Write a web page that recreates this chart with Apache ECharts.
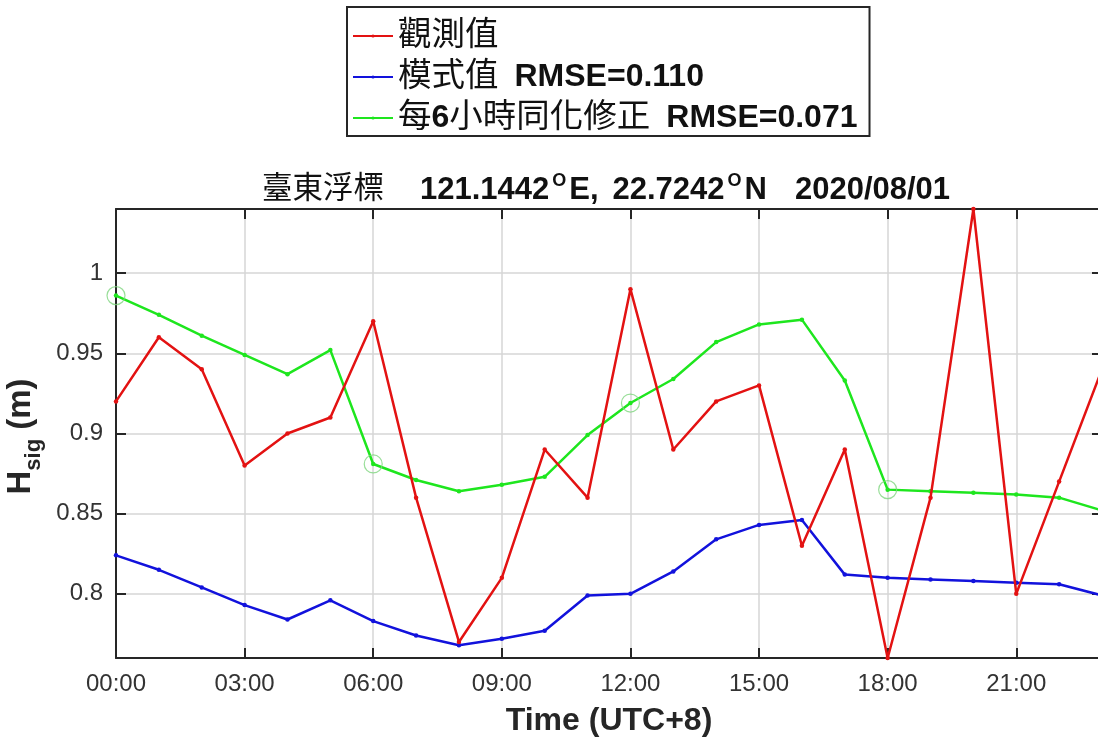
<!DOCTYPE html>
<html><head><meta charset="utf-8">
<script src="https://cdn.jsdelivr.net/npm/echarts@6/dist/echarts.min.js"></script>
<style>html,body{margin:0;padding:0;background:#fff}#c{width:1098px;height:740px}</style>
</head><body><div id="c"></div>
<script>
// ---- data ----
const hours = ['00:00','01:00','02:00','03:00','04:00','05:00','06:00','07:00','08:00','09:00','10:00','11:00',
               '12:00','13:00','14:00','15:00','16:00','17:00','18:00','19:00','20:00','21:00','22:00','23:00'];
const observed = [0.92,0.96,0.94,0.88,0.90,0.91,0.97,0.86,0.77,0.81,0.89,0.86,
                  0.99,0.89,0.92,0.93,0.83,0.89,0.76,0.86,1.04,0.80,0.87,0.94];
const model = [0.824,0.815,0.804,0.793,0.784,0.796,0.783,0.774,0.768,0.772,0.777,0.799,
               0.800,0.814,0.834,0.843,0.846,0.812,0.810,0.809,0.808,0.807,0.806,0.799];
const assimilated = [0.986,0.974,0.961,0.949,0.937,0.952,0.881,0.871,0.864,0.868,0.873,0.899,
                     0.919,0.934,0.957,0.968,0.971,0.933,0.865,0.864,0.863,0.862,0.860,0.852];
const assimHours = ['00:00','06:00','12:00','18:00'];
const seriesNames = ['觀測值','模式值 RMSE=0.110','每6小時同化修正 RMSE=0.071'];
const titleStation = '臺東浮標';
const titleLon = '121.1442', titleLat = '22.7242', titleDate = '2020/08/01';
const yMin = 0.76, yMax = 1.04;

const FONT = "'Liberation Sans', 'Noto Sans CJK TC', sans-serif";
const colors = ['#e31212', '#1212dc', '#1ee61e'];

const chart = echarts.init(document.getElementById('c'), null, {renderer: 'canvas'});

function legendText(s) {
  const k = s.indexOf(' ');
  const head = k < 0 ? s : s.slice(0, k);
  const tail = k < 0 ? '' : s.slice(k + 1);
  let out = head.replace(/([0-9]+)/g, '{b|$1}');
  if (tail) out += '{r|' + tail + '}';
  return out;
}

const lineSeries = [observed, model, assimilated].map((vals, i) => ({
  name: seriesNames[i],
  type: 'line',
  data: vals,
  symbol: 'circle',
  symbolSize: 4.5,
  showSymbol: true,
  lineStyle: {color: colors[i], width: 2.5},
  itemStyle: {color: colors[i]},
  emphasis: {disabled: true},
  animation: false,
  z: 3 - i + 2
}));

const circleSeries = {
  type: 'scatter',
  name: 'assim',
  data: assimHours.map(h => [h, assimilated[hours.indexOf(h)]]),
  symbol: 'circle',
  symbolSize: 18,
  itemStyle: {color: 'rgba(0,0,0,0)', borderColor: '#7fd67f', borderWidth: 1.2},
  emphasis: {disabled: true},
  animation: false,
  z: 10
};

const axisLineStyle = {color: '#262626', width: 2};
const bold31 = {fontFamily: FONT, fontSize: 31, fontWeight: 'bold', color: '#111', lineHeight: 36, verticalAlign: 'middle'};
const option = {
  backgroundColor: '#fff',
  animation: false,
  textStyle: {fontFamily: FONT},
  title: {
    text: '{n|' + titleStation + '}{b1|' + titleLon + '}{s|O}{b|E,}{b3|' + titleLat + '}{s|O}{b|N}{b2|' + titleDate + '}',
    left: 601,
    textAlign: 'center',
    top: 167,
    textStyle: {
      fontFamily: FONT,
      rich: {
        n: {fontFamily: FONT, fontSize: 30.5, fontWeight: 'normal', color: '#111', lineHeight: 36, verticalAlign: 'middle'},
        b: bold31,
        b1: Object.assign({}, bold31, {padding: [0, 0, 0, 36]}),
        b2: Object.assign({}, bold31, {padding: [0, 0, 0, 28]}),
        b3: Object.assign({}, bold31, {padding: [0, 0, 0, 14]}),
        s: {fontFamily: FONT, fontSize: 18, fontWeight: 'bold', color: '#111', verticalAlign: 'top', lineHeight: 36, padding: [0, 3, 19, 3]}
      }
    }
  },
  legend: {
    data: seriesNames,
    orient: 'vertical',
    left: 347,
    top: 7,
    itemWidth: 40,
    itemHeight: 4,
    itemGap: 7,
    padding: [12, 12, 1, 5],
    borderColor: '#262626',
    borderWidth: 2,
    backgroundColor: '#fff',
    selectedMode: false,
    formatter: name => legendText(name),
    textStyle: {
      fontFamily: FONT, fontSize: 33.5, color: '#111', lineHeight: 34,
      rich: {
        b: {fontFamily: FONT, fontSize: 32, fontWeight: 'bold', color: '#111', lineHeight: 34},
        r: {fontFamily: FONT, fontSize: 32, fontWeight: 'bold', color: '#111', lineHeight: 34, padding: [0, 0, 0, 16]}
      }
    }
  },
  grid: {left: 116, top: 209, width: 986, height: 449, containLabel: false, outerBoundsMode: 'none'},
  xAxis: [{
    type: 'category',
    data: hours,
    boundaryGap: false,
    name: 'Time (UTC+8)',
    nameLocation: 'middle',
    nameGap: 47,
    nameTextStyle: {fontFamily: FONT, fontSize: 32, fontWeight: 'bold', color: '#262626'},
    axisLine: {lineStyle: axisLineStyle},
    axisTick: {inside: true, length: 10, interval: 2, lineStyle: axisLineStyle},
    axisLabel: {interval: 2, margin: 14, fontFamily: FONT, fontSize: 24, color: '#333'},
    splitLine: {show: true, interval: 2, lineStyle: {color: '#d6d6d6', width: 1.5}}
  }, {
    type: 'category',
    data: hours,
    boundaryGap: false,
    position: 'top',
    axisLine: {lineStyle: axisLineStyle},
    axisTick: {inside: true, length: 10, interval: 2, lineStyle: axisLineStyle},
    axisLabel: {show: false},
    splitLine: {show: false}
  }],
  yAxis: [{
    type: 'value',
    min: yMin,
    max: yMax,
    splitNumber: 5,
    name: '{h|H}{sub|sig}{h| (m)}',
    nameLocation: 'middle',
    nameRotate: 90,
    nameGap: 54,
    nameTextStyle: {
      fontFamily: FONT, fontSize: 33, fontWeight: 'bold', color: '#262626',
      padding: [7, 6, 0, 0],
      rich: {
        h: {fontFamily: FONT, fontSize: 33, fontWeight: 'bold', color: '#262626'},
        sub: {fontFamily: FONT, fontSize: 22, fontWeight: 'bold', color: '#262626', verticalAlign: 'bottom', padding: [26, 0, 0, 0]}
      }
    },
    axisLine: {show: true, lineStyle: axisLineStyle},
    axisTick: {show: true, inside: true, length: 10, lineStyle: axisLineStyle},
    axisLabel: {margin: 13, fontFamily: FONT, fontSize: 24, color: '#333', showMinLabel: false, showMaxLabel: false},
    splitLine: {show: true, lineStyle: {color: '#d6d6d6', width: 1.5}}
  }, {
    type: 'value',
    min: yMin,
    max: yMax,
    splitNumber: 5,
    position: 'right',
    axisLine: {show: true, lineStyle: axisLineStyle},
    axisTick: {show: true, inside: true, length: 10, lineStyle: axisLineStyle},
    axisLabel: {show: false},
    splitLine: {show: false}
  }],
  series: [...lineSeries, circleSeries]
};
chart.setOption(option);
</script>
</body></html>
